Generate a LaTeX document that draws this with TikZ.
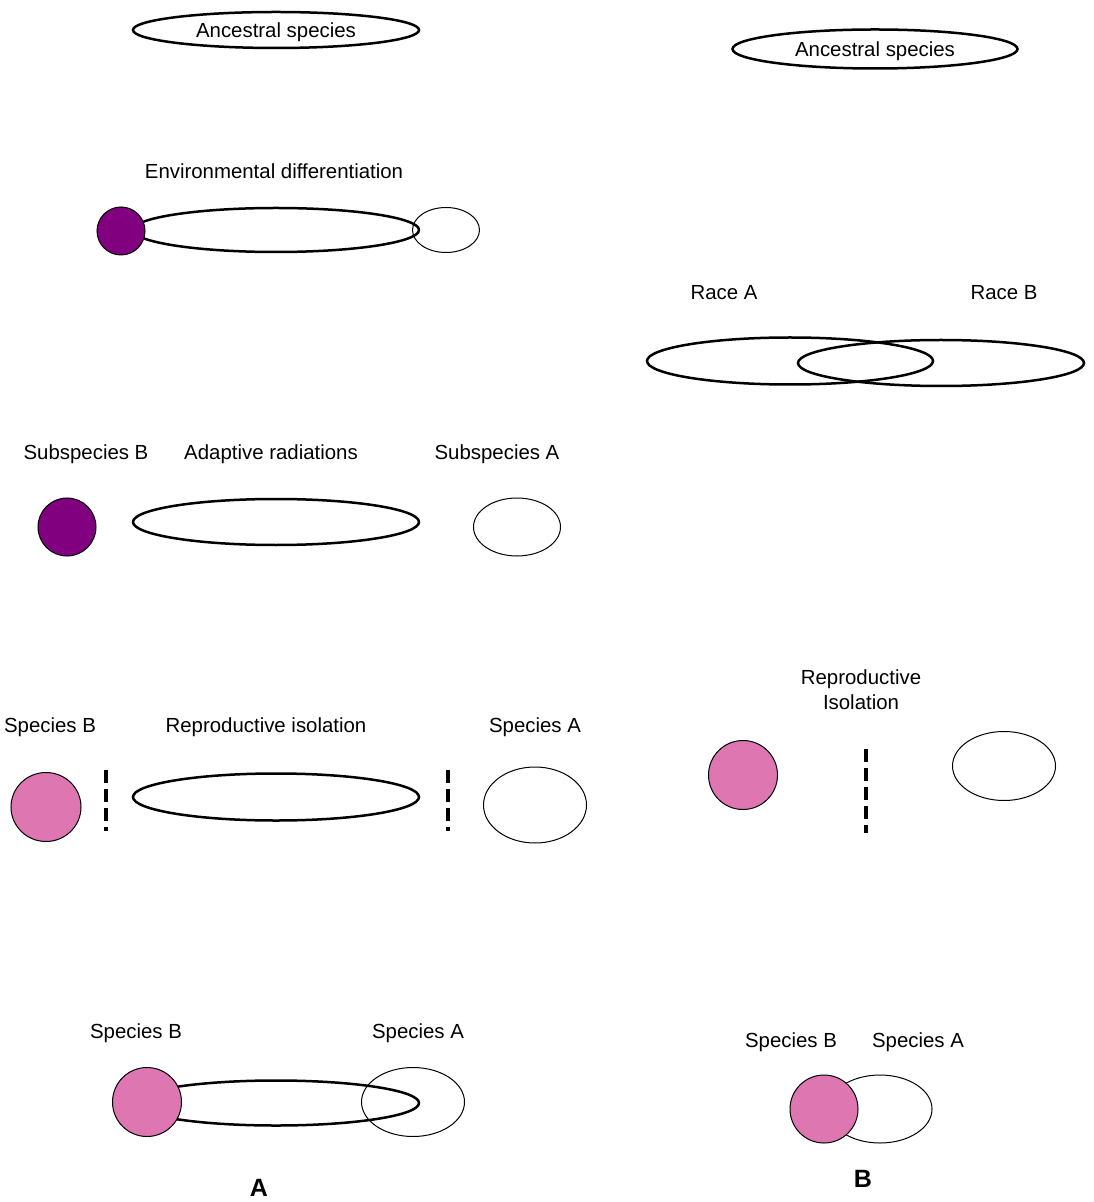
\documentclass[tikz,border=0pt]{standalone}
\usepackage{fontspec}
\setmainfont{Liberation Sans}
\usepackage{tikz}
\usetikzlibrary{shapes.geometric}
\definecolor{subpurple}{RGB}{128,0,128}
\definecolor{sppink}{RGB}{222,118,178}

\begin{document}
\begin{tikzpicture}[
  x=0.5pt, y=-0.5pt,
  font=\fontsize{10.2pt}{12.5pt}\selectfont,
  lbl/.style={inner sep=0pt, align=center, yshift=-1pt},
  habitat/.style={ellipse, draw, line width=1.25pt, inner sep=0pt, text depth=0pt},
  popA/.style={ellipse, draw, line width=0.5pt, inner sep=0pt},
  popB/.style={ellipse, draw, line width=0.5pt, inner sep=0pt, fill=sppink},
  subB/.style={popB, fill=subpurple},
  barrier/.style={line width=2pt, dash pattern=on 6.5pt off 3pt},
  panel/.style={inner sep=0pt, font=\fontsize{12.5pt}{15pt}\selectfont\bfseries}
]
\useasboundingbox[fill=white] (0,0) rectangle (1093,1202);

%% Panel A
\node[habitat, minimum width=143pt, minimum height=18pt] (ancA) at (276,30) {Ancestral species};

\node[lbl] (envLbl) at (274,169) {Environmental differentiation};
\node[habitat, minimum width=143pt, minimum height=22pt] (envR) at (276,230) {};
\node[popA, minimum width=33.5pt, minimum height=22.5pt] (envA) at (446,230) {};
\node[subB, minimum width=24pt, minimum height=24pt] (envB) at (121,231) {};

\node[lbl] (subBLbl) at (86,452) {Subspecies B};
\node[lbl] (adaLbl) at (271,452) {Adaptive radiations};
\node[lbl] (subALbl) at (497,452) {Subspecies A};
\node[subB, minimum width=29pt, minimum height=29pt] (subB) at (67,527) {};
\node[habitat, minimum width=143pt, minimum height=23pt] (adaR) at (276,522) {};
\node[popA, minimum width=43.5pt, minimum height=29pt] (subA) at (517,527) {};

\node[lbl] (spBLbl) at (50,725) {Species B};
\node[lbl] (isoLbl) at (266,725) {Reproductive isolation};
\node[lbl] (spALbl) at (535,725) {Species A};
\node[popB, minimum width=35pt, minimum height=34.5pt] (spB) at (46,807) {};
\node[habitat, minimum width=143pt, minimum height=23.5pt] (isoR) at (276,797) {};
\node[popA, minimum width=51.5pt, minimum height=38pt] (spA) at (535,805) {};
\coordinate (barL1) at (106,770);
\coordinate (barL2) at (106,831);
\coordinate (barR1) at (448,770);
\coordinate (barR2) at (448,831);
\draw[barrier] (barL1) -- (barL2);
\draw[barrier] (barR1) -- (barR2);

\node[lbl] (mrgBLbl) at (136,1031) {Species B};
\node[lbl] (mrgALbl) at (418,1031) {Species A};
\node[habitat, minimum width=143pt, minimum height=22.5pt] (mrgR) at (276,1103) {};
\node[popA, minimum width=51.5pt, minimum height=34.5pt] (mrgA) at (413,1102) {};
\node[popB, minimum width=34.5pt, minimum height=34.5pt] (mrgB) at (147,1102) {};
\node[panel] (panelA) at (259,1188) {A};

%% Panel B
\node[habitat, minimum width=142.5pt, minimum height=19.5pt] (ancB) at (875,49) {Ancestral species};

\node[lbl] (raceALbl) at (724,291) {Race A};
\node[lbl] (raceBLbl) at (1004,291) {Race B};
\node[habitat, minimum width=143pt, minimum height=23.5pt] (raceA) at (790,361) {};
\node[habitat, minimum width=143pt, minimum height=23pt] (raceB) at (941,363) {};

\node[lbl] (isoBLbl) at (861,688) {Reproductive\\Isolation};
\node[popB, minimum width=34.5pt, minimum height=34.5pt] (isoB) at (743,775) {};
\node[popA, minimum width=51.5pt, minimum height=34.5pt] (isoA) at (1004,766) {};
\coordinate (barB1) at (866,749);
\coordinate (barB2) at (866,833);
\draw[barrier] (barB1) -- (barB2);

\node[lbl] (symBLbl) at (791,1040) {Species B};
\node[lbl] (symALbl) at (918,1040) {Species A};
\node[popA, fill=white, minimum width=52pt, minimum height=34pt] (symA) at (880,1109) {};
\node[popB, minimum width=34pt, minimum height=34pt] (symB) at (824,1109) {};
\node[panel] (panelB) at (863,1179) {B};

\end{tikzpicture}
\end{document}
